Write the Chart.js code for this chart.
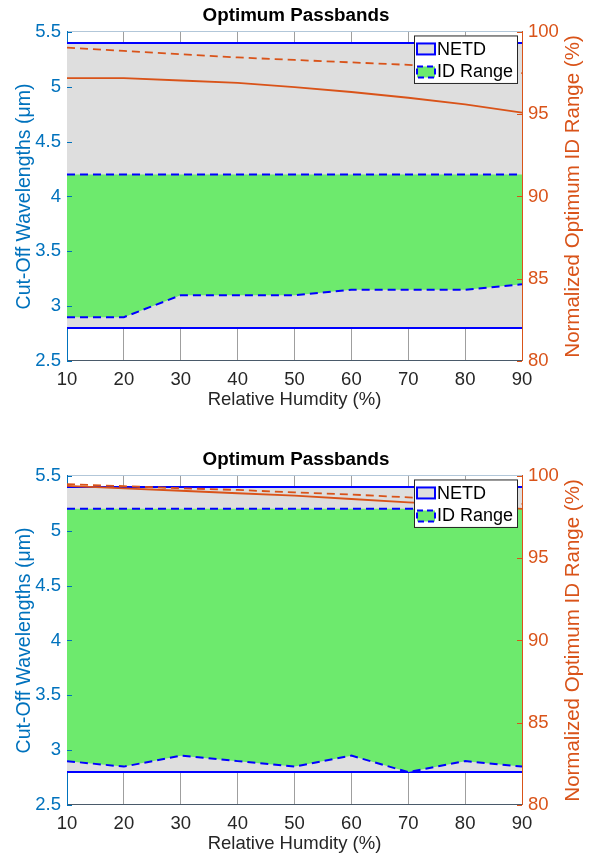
<!DOCTYPE html>
<html>
<head>
<meta charset="utf-8">
<script src="https://cdn.jsdelivr.net/npm/chart.js@4.4.0/dist/chart.umd.min.js"></script>
<style>
  html, body { margin: 0; padding: 0; background: #fff; overflow: hidden; }
  .panel { position: relative; width: 592px; }
  #panelTop { height: 444px; }
  #panelBottom { height: 413px; }
</style>
</head>
<body>
<div class="panel" id="panelTop"><canvas id="chartTop"></canvas></div>
<div class="panel" id="panelBottom"><canvas id="chartBottom"></canvas></div>
<script>
// x categories
const humidity = [10, 20, 30, 40, 50, 60, 70, 80, 90];

// top panel
const netdHighTop = [5.4, 5.4, 5.4, 5.4, 5.4, 5.4, 5.4, 5.4, 5.4];
const netdLowTop = [2.8, 2.8, 2.8, 2.8, 2.8, 2.8, 2.8, 2.8, 2.8];
const idHighTop = [4.2, 4.2, 4.2, 4.2, 4.2, 4.2, 4.2, 4.2, 4.2];
const idLowTop = [2.9, 2.9, 3.1, 3.1, 3.1, 3.15, 3.15, 3.15, 3.2];
const rangeSolidTop = [97.2, 97.2, 97.05, 96.9, 96.65, 96.35, 96.0, 95.6, 95.1];
const rangeDashTop = [99.05, 98.85, 98.65, 98.45, 98.3, 98.15, 98.0, 97.75, 97.5];

// bottom panel
const netdHighBottom = [5.4, 5.4, 5.4, 5.4, 5.4, 5.4, 5.4, 5.4, 5.4];
const netdLowBottom = [2.8, 2.8, 2.8, 2.8, 2.8, 2.8, 2.8, 2.8, 2.8];
const idHighBottom = [5.2, 5.2, 5.2, 5.2, 5.2, 5.2, 5.2, 5.2, 5.2];
const idLowBottom = [2.9, 2.85, 2.95, 2.9, 2.85, 2.95, 2.8, 2.9, 2.85];
const rangeSolidBottom = [99.4, 99.25, 99.1, 98.95, 98.8, 98.6, 98.4, 98.25, 98.0];
const rangeDashBottom = [99.5, 99.38, 99.25, 99.15, 99.0, 98.87, 98.7, 98.55, 98.3];

// axis ticks
const xTicks = [10, 20, 30, 40, 50, 60, 70, 80, 90];
const leftTicks = [2.5, 3, 3.5, 4, 4.5, 5, 5.5];
const rightTicks = [80, 85, 90, 95, 100];

const BLUE_AXIS = '#0072BD';
const ORANGE = '#D95319';
const FONT = '"Liberation Sans", Arial, sans-serif';

Chart.defaults.font.family = FONT;
Chart.defaults.font.size = 18.5;
Chart.defaults.color = '#262626';

function pts(arr) {
    return humidity.map((h, i) => ({ x: h, y: arr[i] }));
}

// legend box, right axis title and inward tick marks
const extrasPlugin = {
    id: 'extras',
    afterDraw(chart) {
        const ctx = chart.ctx;
        const a = chart.chartArea;

        // inward ticks on the y axes
        ctx.save();
        ctx.lineWidth = 1;
        ctx.strokeStyle = BLUE_AXIS;
        leftTicks.forEach(v => {
            const y = Math.round(chart.scales.y.getPixelForValue(v)) + 0.5;
            ctx.beginPath();
            ctx.moveTo(a.left, y);
            ctx.lineTo(a.left + 5, y);
            ctx.stroke();
        });
        ctx.strokeStyle = ORANGE;
        rightTicks.forEach(v => {
            const y = Math.round(chart.scales.y1.getPixelForValue(v)) + 0.5;
            ctx.beginPath();
            ctx.moveTo(a.right, y);
            ctx.lineTo(a.right - 5, y);
            ctx.stroke();
        });
        ctx.restore();

        // right axis title, reading bottom to top
        ctx.save();
        ctx.translate(573, (a.top + a.bottom) / 2);
        ctx.rotate(-Math.PI / 2);
        ctx.textAlign = 'center';
        ctx.textBaseline = 'middle';
        ctx.fillStyle = ORANGE;
        ctx.font = '20.5px ' + FONT;
        ctx.fillText('Normalized Optimum ID Range (%)', 0, 0);
        ctx.restore();

        // legend
        const bx = a.right - 108, by = a.top + 3.5, bw = 103, bh = 47.5;
        ctx.save();
        ctx.fillStyle = '#fff';
        ctx.fillRect(bx, by, bw, bh);
        ctx.strokeStyle = '#262626';
        ctx.lineWidth = 1;
        ctx.strokeRect(bx + 0.5, by + 0.5, bw, bh);

        ctx.fillStyle = '#dedede';
        ctx.fillRect(bx + 3, by + 8, 18, 11);
        ctx.strokeStyle = '#0000ff';
        ctx.lineWidth = 2;
        ctx.strokeRect(bx + 3, by + 8, 18, 11);

        ctx.fillStyle = '#6dea6d';
        ctx.fillRect(bx + 3, by + 31, 18, 11);
        ctx.setLineDash([6, 4]);
        ctx.strokeRect(bx + 3, by + 31, 18, 11);
        ctx.setLineDash([]);

        ctx.fillStyle = '#000';
        ctx.font = '18px ' + FONT;
        ctx.textAlign = 'left';
        ctx.textBaseline = 'middle';
        ctx.fillText('NETD', bx + 23, by + 14.5);
        ctx.fillText('ID Range', bx + 23, by + 37);
        ctx.restore();
    }
};

function makeChart(canvasId, netdHigh, netdLow, idHigh, idLow, solid, dashed, bottomPad) {
    const ctx = document.getElementById(canvasId).getContext('2d');
    return new Chart(ctx, {
        type: 'line',
        data: {
            datasets: [
                {
                    label: 'NETD',
                    data: pts(netdHigh),
                    yAxisID: 'y',
                    borderColor: '#0000ff',
                    backgroundColor: '#dedede',
                    borderWidth: 2,
                    fill: '+1',
                    order: 10
                },
                {
                    label: 'NETD low',
                    data: pts(netdLow),
                    yAxisID: 'y',
                    borderColor: '#0000ff',
                    borderWidth: 2,
                    fill: false,
                    order: 9
                },
                {
                    label: 'ID Range',
                    data: pts(idHigh),
                    yAxisID: 'y',
                    borderColor: '#0000ff',
                    backgroundColor: '#6dea6d',
                    borderWidth: 2,
                    borderDash: [8, 5],
                    fill: '+1',
                    order: 8
                },
                {
                    label: 'ID low',
                    data: pts(idLow),
                    yAxisID: 'y',
                    borderColor: '#0000ff',
                    borderWidth: 2,
                    borderDash: [8, 5],
                    fill: false,
                    order: 7
                },
                {
                    label: 'Range solid',
                    data: pts(solid),
                    yAxisID: 'y1',
                    borderColor: ORANGE,
                    borderWidth: 1.8,
                    fill: false,
                    order: 2
                },
                {
                    label: 'Range dashed',
                    data: pts(dashed),
                    yAxisID: 'y1',
                    borderColor: ORANGE,
                    borderWidth: 1.8,
                    borderDash: [8, 5],
                    fill: false,
                    order: 1
                }
            ]
        },
        options: {
            responsive: true,
            maintainAspectRatio: false,
            animation: false,
            layout: { padding: { left: 0, right: 0, top: 0, bottom: bottomPad } },
            elements: { point: { radius: 0 }, line: { tension: 0 } },
            plugins: {
                legend: { display: false },
                tooltip: { enabled: false },
                title: {
                    display: true,
                    text: 'Optimum Passbands',
                    color: '#000',
                    font: { size: 18.8, weight: 'bold' },
                    padding: { top: 5, bottom: 4.4 }
                }
            },
            scales: {
                x: {
                    type: 'linear',
                    min: 10,
                    max: 90,
                    z: 1,
                    afterBuildTicks: s => { s.ticks = xTicks.map(v => ({ value: v })); },
                    afterFit: s => { s.height = 52; },
                    grid: { color: 'rgba(80,80,80,0.55)', drawTicks: false },
                    border: { color: '#4a5a6a' },
                    ticks: { padding: 8, color: '#262626', callback: v => String(v) },
                    title: {
                        display: true,
                        text: 'Relative Humdity (%)',
                        color: '#262626',
                        padding: { top: 0, bottom: 2 }
                    }
                },
                y: {
                    position: 'left',
                    min: 2.5,
                    max: 5.5,
                    z: 1,
                    afterBuildTicks: s => { s.ticks = leftTicks.map(v => ({ value: v })); },
                    afterFit: s => { s.width = 67; },
                    grid: { color: 'rgba(0,70,130,0.3)', drawTicks: false },
                    border: { color: BLUE_AXIS },
                    ticks: { padding: 6, color: BLUE_AXIS, callback: v => String(v) },
                    title: {
                        display: true,
                        text: 'Cut-Off Wavelengths (\u03bcm)',
                        color: BLUE_AXIS,
                        font: { size: 19.5 },
                        padding: { top: 13, bottom: 0 }
                    }
                },
                y1: {
                    position: 'right',
                    min: 80,
                    max: 100,
                    z: 1,
                    afterBuildTicks: s => { s.ticks = rightTicks.map(v => ({ value: v })); },
                    afterFit: s => { s.width = 70; },
                    grid: { drawOnChartArea: false, drawTicks: false },
                    border: { color: ORANGE },
                    ticks: { padding: 6, color: ORANGE, callback: v => String(v) }
                }
            }
        },
        plugins: [extrasPlugin]
    });
}

makeChart('chartTop', netdHighTop, netdLowTop, idHighTop, idLowTop, rangeSolidTop, rangeDashTop, 31);
makeChart('chartBottom', netdHighBottom, netdLowBottom, idHighBottom, idLowBottom, rangeSolidBottom, rangeDashBottom, 0);
</script>
</body>
</html>
